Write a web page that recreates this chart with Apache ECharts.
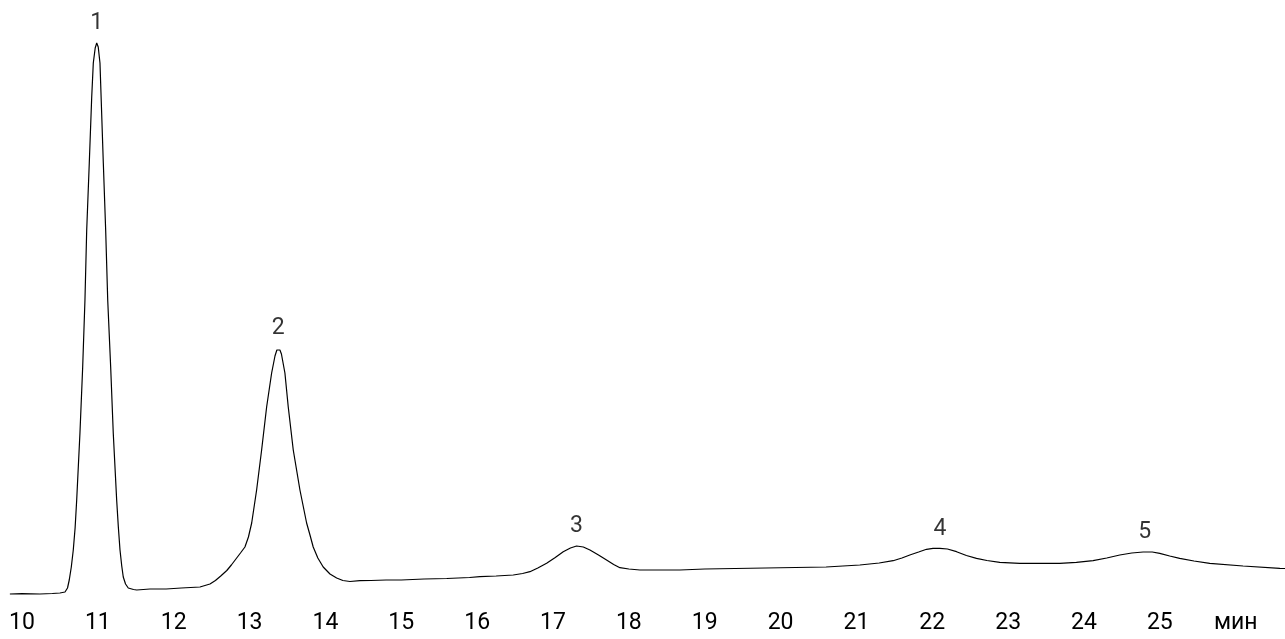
<!DOCTYPE html>
<html>
<head>
<meta charset="utf-8">
<script src="https://cdn.jsdelivr.net/npm/echarts@6/dist/echarts.min.js"></script>
<style>
  html, body { margin: 0; padding: 0; background: #fff; }
  #chart { width: 1285px; height: 639px; }
</style>
</head>
<body>
<div id="chart"></div>
<script>
// Retention time, min
const timeMin = [
  9.84, 10.00, 10.237, 10.40, 10.50, 10.567, 10.60, 10.623, 10.65, 10.676,
  10.70, 10.721, 10.764, 10.80, 10.83, 10.853, 10.887, 10.919, 10.94, 10.965,
  10.985, 11.005, 11.028, 11.05, 11.072, 11.103, 11.13, 11.169, 11.203, 11.248,
  11.27, 11.292, 11.315, 11.335, 11.365, 11.401, 11.47, 11.512, 11.687, 11.90,
  12.10, 12.346, 12.478, 12.55, 12.62, 12.70, 12.76, 12.82, 12.88, 12.939,
  12.985, 13.028, 13.093, 13.159, 13.225, 13.291, 13.335, 13.36, 13.378, 13.40,
  13.42, 13.466, 13.51, 13.576, 13.664, 13.752, 13.80, 13.839, 13.90, 13.971,
  14.06, 14.148, 14.23, 14.323, 14.455, 14.60, 14.80, 15.00, 15.30, 15.60,
  15.90, 16.037, 16.25, 16.476, 16.60, 16.696, 16.80, 16.916, 17.03, 17.135,
  17.23, 17.311, 17.40, 17.487, 17.60, 17.706, 17.80, 17.882, 18.00, 18.146,
  18.40, 18.673, 19.00, 19.40, 19.80, 20.20, 20.60, 21.045, 21.30, 21.484,
  21.60, 21.704, 21.82, 21.924, 22.01, 22.10, 22.20, 22.32, 22.45, 22.583,
  22.72, 22.89, 23.154, 23.40, 23.681, 23.90, 24.12, 24.30, 24.472, 24.63,
  24.78, 24.90, 24.999, 25.13, 25.262, 25.45, 25.658, 26.097, 26.582, 26.65
];

// Detector signal, arbitrary units
const signal = [
  6, 6.3, 6, 6.5, 7, 8, 12, 20, 33, 50,
  72, 100, 167, 233, 300, 370, 437, 503, 537, 552,
  557, 553, 537, 487, 437, 370, 300, 233, 167, 100,
  73, 50, 34, 23, 16, 12, 10.5, 10, 11, 11,
  12, 13, 16, 19.5, 24, 29.5, 35, 41, 47, 53,
  63, 77, 110, 150, 193, 227, 244, 250, 252, 250,
  246, 227, 193, 150, 110, 77, 64, 53, 42, 33,
  26, 22, 19.5, 18.5, 19.3, 19.5, 20, 20, 21, 21.5,
  22.5, 23.3, 24, 25, 26.5, 28.3, 32, 36.7, 42.5, 48.3,
  52, 54, 53, 50, 45, 40, 35.5, 32.3, 31, 30,
  30, 30, 31, 31.5, 32, 32.5, 33, 35, 37, 39.3,
  42, 45, 48, 50.7, 51.6, 51.7, 51, 48.3, 44.5, 41.7,
  39.5, 37.7, 36.7, 36.6, 36.7, 37.7, 39.3, 42, 45, 47,
  48, 48, 46.7, 44, 41.7, 39, 36.7, 34, 31.7, 31.5
];

// Peak numbers with their apex positions
const peakNames = ['1', '2', '3', '4', '5'];
const peakTimes = [10.985, 13.378, 17.311, 22.10, 24.80];
const peakHeights = [557, 252, 54, 51.7, 48];

// Time axis tick labels
const tickValues = [10, 11, 12, 13, 14, 15, 16, 17, 18, 19, 20, 21, 22, 23, 24, 25, 26];
const unitLabel = 'мин';

const trace = timeMin.map((t, i) => [t, signal[i]]);
const peaks = peakNames.map((n, i) => ({ name: n, value: [peakTimes[i], peakHeights[i]] }));

const chart = echarts.init(document.getElementById('chart'), null, { renderer: 'canvas' });
chart.setOption({
  animation: false,
  backgroundColor: '#ffffff',
  grid: { left: 0, right: 0, top: 0, bottom: 39, containLabel: false },
  xAxis: {
    type: 'value',
    min: 9.71,
    max: 26.65,
    axisLine: { show: false },
    axisTick: { show: false },
    splitLine: { show: false },
    axisLabel: {
      customValues: tickValues,
      margin: 12,
      fontFamily: 'Roboto',
      fontSize: 23,
      color: '#000000',
      formatter: v => (v === 26 ? unitLabel : String(v))
    }
  },
  yAxis: {
    type: 'value',
    min: 0,
    max: 600,
    show: false
  },
  series: [
    {
      type: 'line',
      data: trace,
      showSymbol: false,
      smooth: false,
      lineStyle: { color: '#000000', width: 1.2 },
      silent: true
    },
    {
      type: 'scatter',
      data: peaks,
      symbolSize: 0,
      label: {
        show: true,
        position: 'top',
        distance: 8,
        formatter: p => p.name,
        fontFamily: 'Roboto',
        fontSize: 23,
        color: '#000000'
      },
      silent: true
    }
  ]
});
</script>
</body>
</html>
